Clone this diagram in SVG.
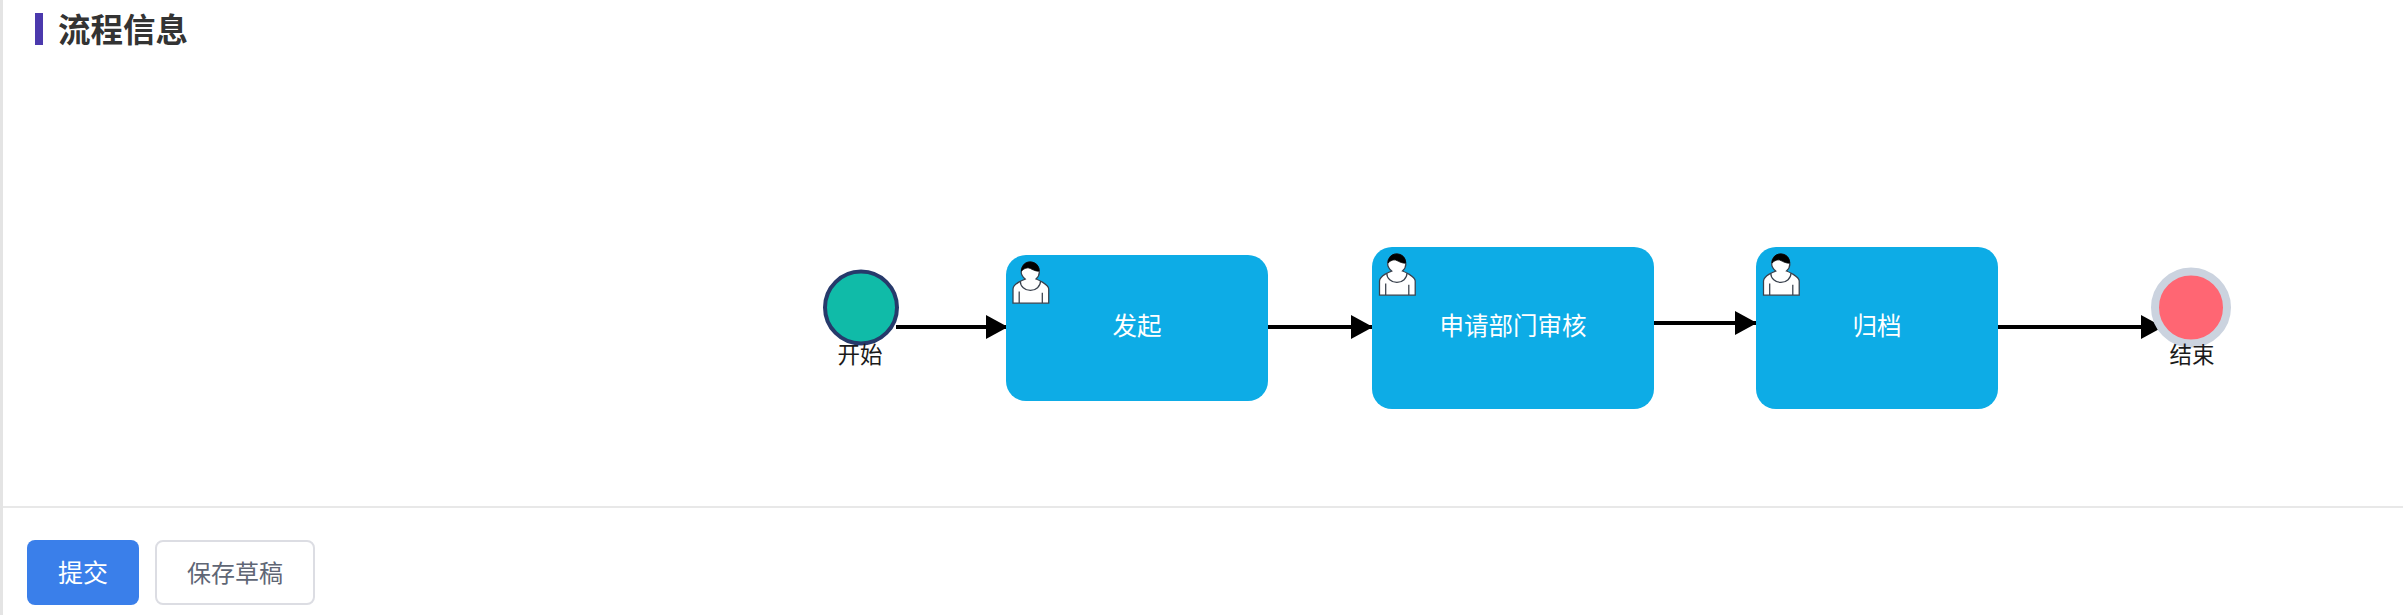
<svg xmlns="http://www.w3.org/2000/svg" xmlns:xlink="http://www.w3.org/1999/xlink" width="2403" height="615" viewBox="0 0 2403 615">
<style>
text{font-family:"Noto Sans CJK SC","Noto Sans",sans-serif;text-anchor:middle}
.task{fill:#0dace6}
.tl{fill:#fff;font-size:24.500px}
.el{fill:#1a1a1a;font-size:22.500px}
.flow{fill:none;stroke:#000;stroke-width:4}
.ic{fill:#fff;stroke:#39414d;stroke-width:.6}
.ic2{fill:none;stroke:#39414d;stroke-width:.6}
.ic3{fill:#000;stroke:#000;stroke-width:.4}
</style>
<defs>
<marker id="arrow" markerUnits="userSpaceOnUse" markerWidth="23" markerHeight="26" refX="22" refY="13" orient="auto"><path d="M0 1 L22 13 L0 25 Z" fill="#000"/></marker>
<g id="user">
<path class="ic" d="m0,0 c.909,-.845 1.594,-2.049 1.594,-3.385 0,-2.554 -1.805,-4.622 -4.357,-4.622 -2.552,0 -4.288,2.068 -4.288,4.622 0,1.348 .974,2.562 1.896,3.405 -.529,.187 -5.669,2.097 -5.794,4.756 v6.718 h17 v-6.718 c0,-2.298 -5.528,-4.595 -6.051,-4.776 z m-8,6 l0,5.5 m11,0 l0,-5"/>
<path class="ic2" d="m2.162,1.009 c0,2.447 -2.158,4.431 -4.821,4.431 -2.665,0 -4.822,-1.981 -4.822,-4.428"/>
<path class="ic3" d="m-6.9,-3.8 c0,0 2.251,-2.358 4.274,-1.177 2.024,1.181 4.221,1.537 4.124,.965 -.098,-.57 -.117,-3.791 -4.191,-4.136 -3.575,.001 -4.208,3.367 -4.207,4.348 z"/>
</g>
</defs>
<rect x="0" y="0" width="2403" height="615" fill="#fff"/>
<rect x="0" y="0" width="3" height="615" fill="#e4e4e4"/>
<g id="header">
<rect x="35" y="13" width="8" height="32" fill="#4b39ad"/>
<text x="123" y="42" style="font-size:32.500px;font-weight:700;fill:#333">流程信息</text>
</g>
<g id="connectors">
<path class="flow" marker-end="url(#arrow)" d="M896 327H1008"/>
<path class="flow" marker-end="url(#arrow)" d="M1268 327H1373"/>
<path class="flow" marker-end="url(#arrow)" d="M1654 323H1757"/>
<path class="flow" marker-end="url(#arrow)" d="M1998 327H2163"/>
</g>
<g id="start">
<circle cx="861" cy="307.500" r="36" fill="#10bba8" stroke="#263a6b" stroke-width="4"/>
<text class="el" x="860" y="363">开始</text>
</g>
<g id="task-1">
<rect class="task" x="1006" y="255" width="262" height="146" rx="20"/>
<use xlink:href="#user" href="#user" transform="translate(1036 279) scale(2.1)"/>
<text class="tl" x="1137" y="335">发起</text>
</g>
<g id="task-2">
<rect class="task" x="1372" y="247" width="282" height="162" rx="20"/>
<use xlink:href="#user" href="#user" transform="translate(1402.500 271) scale(2.1)"/>
<text class="tl" x="1513" y="335">申请部门审核</text>
</g>
<g id="task-3">
<rect class="task" x="1756" y="247" width="242" height="162" rx="20"/>
<use xlink:href="#user" href="#user" transform="translate(1786.500 271) scale(2.1)"/>
<text class="tl" x="1877" y="335">归档</text>
</g>
<g id="end">
<circle cx="2191" cy="307.500" r="36" fill="#ff6673" stroke="#cbd3df" stroke-width="8"/>
<text class="el" x="2192" y="363">结束</text>
</g>
<rect x="3" y="506" width="2400" height="2" fill="#e8e8e8"/>
<g id="btn-submit">
<rect x="27" y="540" width="112" height="65" rx="8" fill="#3a7fea"/>
<text x="83" y="582" style="font-size:25px;fill:#fff">提交</text>
</g>
<g id="btn-draft">
<rect x="156" y="541" width="158" height="63" rx="7" fill="#fff" stroke="#dcdde3" stroke-width="2"/>
<text x="235" y="582" style="font-size:24px;fill:#5f6675">保存草稿</text>
</g>
</svg>
